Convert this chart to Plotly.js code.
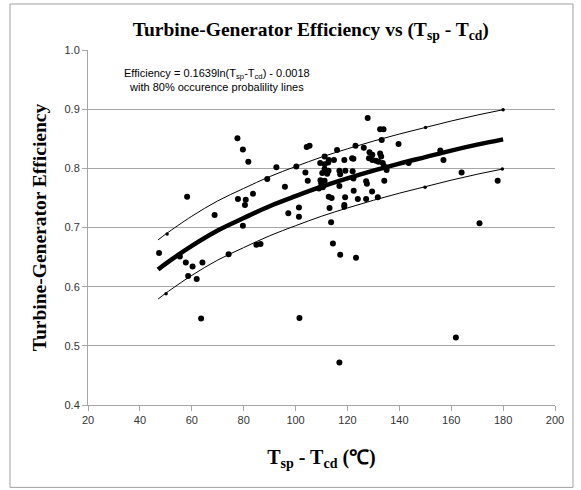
<!DOCTYPE html>
<html>
<head>
<meta charset="utf-8">
<script src="https://cdn.plot.ly/plotly-3.0.1.min.js"></script>
<style>
html,body{margin:0;padding:0;background:#fff;}
#chart{width:581px;height:490px;}
</style>
</head>
<body>
<div id="chart"></div>
<script>
// Observed data points (Tsp - Tcd, efficiency)
const dataX = [47.4,55.4,57.7,58.2,58.6,60.3,61.9,63.6,64.1,68.8,74.2,77.6,77.8,79.7,79.7,80.8,80.5,81.8,83.6,84.9,86.5,89.1,92.6,95.9,97.2,100.3,101.3,101.3,101.5,103.8,104.3,105.4,104.7,109.5,111.2,112.6,111.2,114.8,112.8,116.0,111.2,112.7,110.3,112.2,116.9,117.2,109.6,111.2,109.9,110.5,109.0,116.9,112.8,113.9,119.1,113.1,118.8,113.7,114.4,117.2,123.3,116.9,118.8,121.8,122.0,122.3,122.4,123.1,124.0,126.3,127.2,127.5,127.2,127.8,128.5,129.6,128.3,129.6,129.5,131.0,132.0,131.7,132.6,133.9,133.2,132.6,133.0,133.6,134.1,135.1,134.2,139.7,143.6,155.8,157.0,164.0,161.8,170.9,177.9,122.3,119.2,118.8];
const dataY = [0.657,0.651,0.641,0.752,0.618,0.634,0.613,0.546,0.641,0.721,0.655,0.851,0.748,0.832,0.703,0.747,0.738,0.811,0.757,0.671,0.672,0.782,0.802,0.769,0.724,0.803,0.734,0.718,0.547,0.793,0.836,0.838,0.779,0.809,0.807,0.810,0.820,0.814,0.814,0.831,0.799,0.796,0.792,0.791,0.796,0.790,0.780,0.779,0.775,0.768,0.766,0.770,0.752,0.750,0.751,0.733,0.738,0.709,0.673,0.654,0.649,0.472,0.814,0.817,0.795,0.783,0.762,0.838,0.748,0.835,0.778,0.774,0.748,0.885,0.827,0.823,0.817,0.814,0.761,0.813,0.811,0.751,0.866,0.866,0.848,0.825,0.820,0.809,0.804,0.797,0.779,0.841,0.809,0.830,0.814,0.793,0.514,0.707,0.779,0.816,0.796,0.735];

// Small markers sitting on the 80% occurrence lines
const lineDotX = [50.5,50.1,150.1,149.9,180.0,179.7];
const lineDotY = [0.689,0.588,0.869,0.768,0.899,0.799];

// Trend line and 80% occurrence lines
const fitX   = [47,50,60,70,80,90,100,110,120,130,140,150,160,170,180];
const fitY   = [0.629,0.639,0.669,0.695,0.716,0.736,0.753,0.769,0.783,0.796,0.808,0.819,0.830,0.840,0.849];
const upperY = [0.679,0.689,0.719,0.745,0.766,0.786,0.803,0.819,0.833,0.846,0.858,0.869,0.880,0.890,0.899];
const lowerY = [0.579,0.589,0.619,0.645,0.666,0.686,0.703,0.719,0.733,0.746,0.758,0.769,0.780,0.790,0.799];

const xTicks = [20,40,60,80,100,120,140,160,180,200];
const yTicks = [0.4,0.5,0.6,0.7,0.8,0.9,1.0];
const yTickText = ['0.4','0.5','0.6','0.7','0.8','0.9','1.0'];

const traces = [
  {x: fitX, y: upperY, mode:'lines', line:{color:'#000', width:1, shape:'spline'}, hoverinfo:'skip'},
  {x: fitX, y: lowerY, mode:'lines', line:{color:'#000', width:1, shape:'spline'}, hoverinfo:'skip'},
  {x: fitX, y: fitY, mode:'lines', line:{color:'#000', width:4.5, shape:'spline'}, hoverinfo:'skip'},
  {x: lineDotX, y: lineDotY, mode:'markers', marker:{color:'#000', size:3.5}},
  {x: dataX, y: dataY, mode:'markers', marker:{color:'#000', size:6}}
];

const serif = '"Liberation Serif", "Times New Roman", serif';
const sans = '"Liberation Sans", Arial, sans-serif';

const layout = {
  width:581, height:490,
  margin:{l:88, r:26, t:50, b:85},
  paper_bgcolor:'#fff', plot_bgcolor:'#fff',
  showlegend:false,
  title:{text:'<b>Turbine-Generator Efficiency vs (T<sub>sp</sub> - T<sub>cd</sub>)</b>',
         font:{family:serif, size:19.5, color:'#000'}, x:0.535, xanchor:'center', y:0.94, yanchor:'middle'},
  xaxis:{range:[20,200], tickvals:xTicks, ticks:'outside', ticklen:5, tickcolor:'#a6a6a6',
         showline:true, linecolor:'#a6a6a6', linewidth:1, showgrid:false, zeroline:false,
         tickfont:{family:sans, size:11, color:'#333'},
         title:{text:'<b>T<sub>sp</sub> - T<sub>cd</sub> (℃)</b>', font:{family:serif, size:20, color:'#000'}, standoff:24}},
  yaxis:{range:[0.4,1.0], tickvals:yTicks, ticktext:yTickText, ticks:'outside', ticklen:5, tickcolor:'#a6a6a6',
         showline:true, linecolor:'#a6a6a6', linewidth:1, showgrid:true, gridcolor:'#a6a6a6', gridwidth:1, zeroline:false,
         tickfont:{family:sans, size:11, color:'#333'},
         title:{text:'<b>Turbine-Generator Efficiency</b>', font:{family:serif, size:19.5, color:'#000'}, standoff:12}},
  annotations:[
    {xref:'paper', yref:'paper', x:0.276, y:0.915, xanchor:'center', yanchor:'middle', showarrow:false, align:'center',
     text:'Efficiency = 0.1639ln(T<sub>sp</sub>-T<sub>cd</sub>) - 0.0018<br>with 80% occurence probalility lines',
     font:{family:sans, size:11, color:'#000'}}
  ],
  shapes:[
    {type:'rect', xref:'paper', yref:'paper', x0:-0.167, x1:1.0385, y0:-0.232, y1:1.1296,
     line:{color:'#a0a0a0', width:1}, fillcolor:'rgba(0,0,0,0)', layer:'below'}
  ]
};

Plotly.newPlot('chart', traces, layout, {displayModeBar:false, staticPlot:true});
</script>
</body>
</html>
